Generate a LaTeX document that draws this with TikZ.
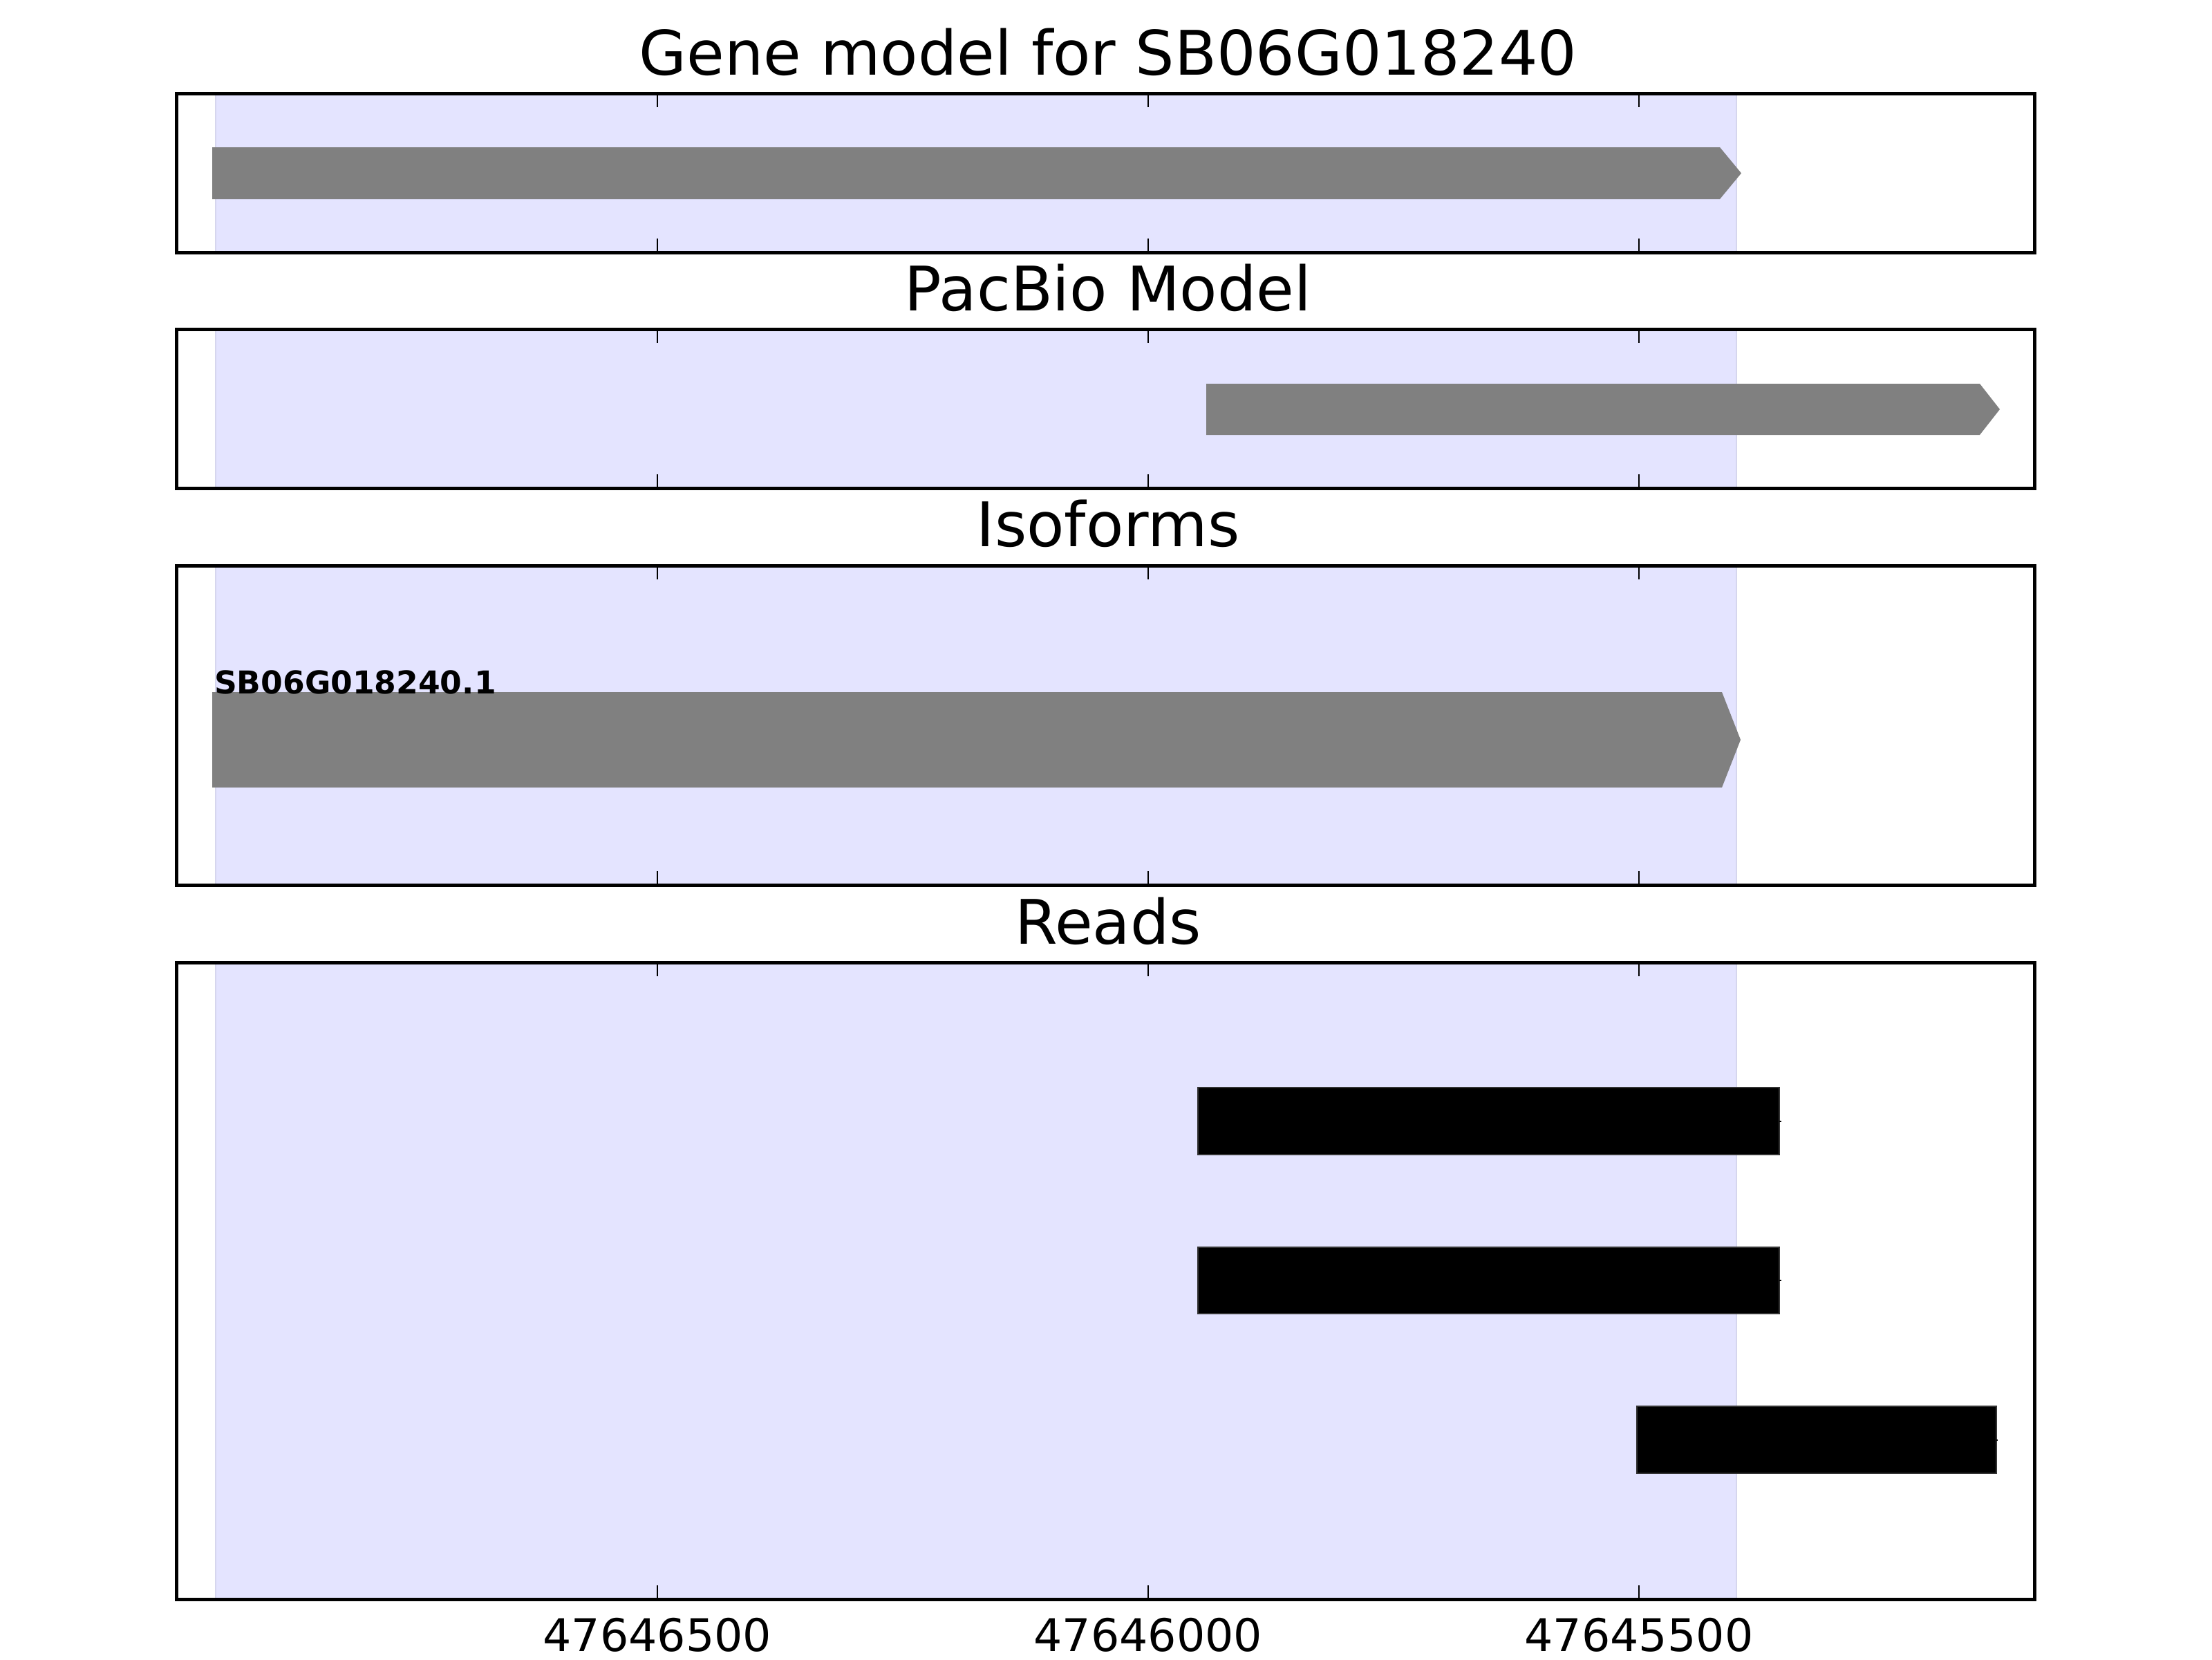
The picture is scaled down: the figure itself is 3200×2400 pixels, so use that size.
\documentclass[tikz,border=0pt]{standalone}
\usepackage{fontspec}
\setmainfont{DejaVu Sans}
\definecolor{spanfill}{HTML}{E4E4FF}
\definecolor{spanedge}{HTML}{D6D6EE}
\definecolor{bargray}{HTML}{808080}
\tikzset{
  paneltitle/.style={anchor=base, inner sep=0pt, font=\fontsize{16}{18}\selectfont},
  ticklabel/.style={anchor=base, inner sep=0pt, font=\fontsize{11.7}{14}\selectfont},
  isolabel/.style={anchor=base west, inner sep=0pt, font=\bfseries\fontsize{8.2}{10}\selectfont},
  frame/.style={draw=black, line width=0.9pt},
  tickmark/.style={draw=black, line width=0.4pt},
  readbar/.style={fill=black, draw=black!80, line width=0.3pt},
}
\begin{document}
\begin{tikzpicture}[x=0.18pt, y=-0.18pt]
\useasboundingbox[fill=white] (0,0) rectangle (3200,2400);
% shaded span in every panel
\foreach \t/\b in {135/365, 476/706, 818/1280, 1392/2313}{
  \fill[spanfill] (312,\t) rectangle (2512,\b);
  \draw[spanedge, line width=0.45pt] (312,\t) -- (312,\b) (2512,\t) -- (2512,\b);
}
% gene model
\fill[bargray] (307,213) -- (2488,213) -- (2519,250.5) -- (2488,288) -- (307,288) -- cycle;
% PacBio model
\fill[bargray] (1745,555) -- (2864,555) -- (2893,592) -- (2864,629) -- (1745,629) -- cycle;
% isoform
\fill[bargray] (307,1001) -- (2491,1001) -- (2518,1070) -- (2491,1139) -- (307,1139) -- cycle;
\node[isolabel] (iso) at (309,1003) {SB06G018240.1};
% reads
\filldraw[readbar] (1733,1573) rectangle (2574,1670);
\filldraw[readbar] (1733,1804) rectangle (2574,1900);
\filldraw[readbar] (2368,2034) rectangle (2888,2131);
\draw[black, line width=0.5pt] (2574,1622) -- (2577,1622);
\draw[black, line width=0.5pt] (2574,1852) -- (2577,1852);
\draw[black, line width=0.5pt] (2888,2083) -- (2890,2083);
% ticks and frames
\foreach \t/\b in {135/365, 476/706, 818/1280, 1392/2313}{
  \foreach \x in {951,1661,2371}{
    \draw[tickmark] (\x,\t) -- (\x,\t+20);
    \draw[tickmark] (\x,\b) -- (\x,\b-20);
  }
  \draw[frame] (255,\t) rectangle (2943,\b);
}
% titles
\node[paneltitle] (t1) at (1603,108) {Gene model for SB06G018240};
\node[paneltitle] (t2) at (1603,449) {PacBio Model};
\node[paneltitle] (t3) at (1603,790) {Isoforms};
\node[paneltitle] (t4) at (1603,1365) {Reads};
% tick labels
\node[ticklabel] (xl1) at (951,2388) {47646500};
\node[ticklabel] (xl2) at (1661,2388) {47646000};
\node[ticklabel] (xl3) at (2371,2388) {47645500};
\end{tikzpicture}
\end{document}
